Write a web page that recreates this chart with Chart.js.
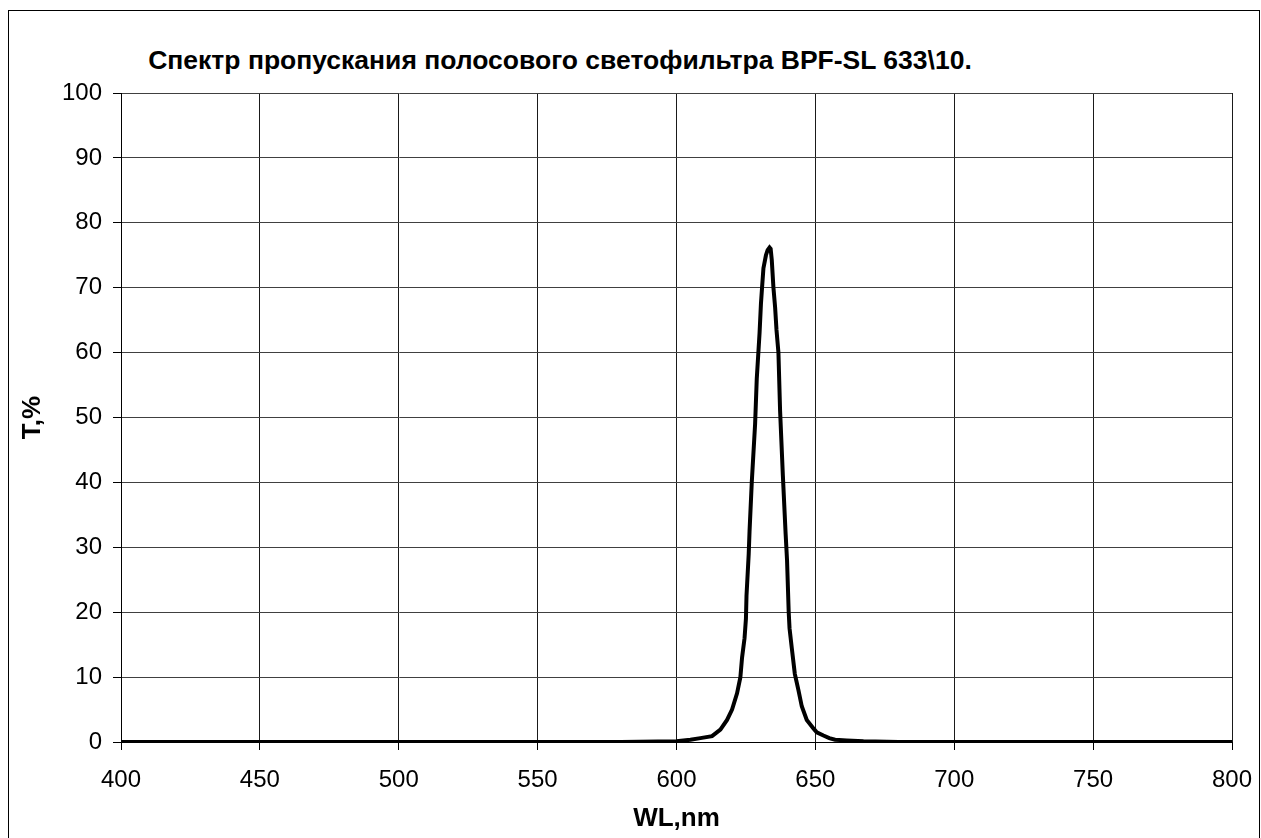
<!DOCTYPE html>
<html>
<head>
<meta charset="utf-8">
<script src="https://cdn.jsdelivr.net/npm/chart.js@4"></script>
<style>
  body { margin: 0; background: #fff; overflow: hidden; }
  #frame { position: absolute; left: 8px; top: 10px; width: 1250px; height: 900px; border: 1px solid #000; }
  #title { position: absolute; left: 0; top: 45px; width: 1120px; text-align: center;
           font: bold 26.5px "Liberation Sans", Arial, sans-serif; line-height: 30px; color: #000; }
  #c { position: absolute; left: 0; top: 0; }
</style>
</head>
<body>
<div id="frame"></div>
<div id="title">Спектр пропускания полосового светофильтра BPF-SL 633\10.</div>
<canvas id="c" width="1261" height="838"></canvas>
<script>
// wavelength, nm
const wl = [400, 500, 580, 600, 605, 608.6, 612.8, 615.8, 618.2, 620, 621.8, 623, 623.6, 624.5, 625, 625.2,
  626, 626.3, 627.1, 628.3, 628.9, 629.9, 630.4, 630.8, 631.3, 632.2, 632.8, 633.5, 633.9, 634.3, 634.9,
  635.5, 636, 636.7, 637.3, 638.3, 639.3, 639.8, 640.4, 640.7, 641.5, 642.6, 643.9, 645.1, 646.9, 649.3,
  650.5, 652.9, 655, 657.1, 661.3, 667.3, 680, 800]
// transmission, %
const tr = [0, 0, 0, 0.1, 0.35, 0.6, 0.9, 1.9, 3.4, 5, 7.5, 10, 13, 16, 19, 22.5,
  29, 32.5, 40, 49, 56, 63, 67.5, 70, 73, 75, 75.8, 76.2, 76, 74.3, 70,
  67, 63.5, 60, 51, 41, 32, 28, 20, 17.5, 14.5, 10.5, 8, 5.5, 3.4, 2.1,
  1.5, 1.0, 0.6, 0.35, 0.25, 0.1, 0, 0]
const xTicks = [400, 450, 500, 550, 600, 650, 700, 750, 800]
const yTicks = [0, 10, 20, 30, 40, 50, 60, 70, 80, 90, 100]

const points = wl.map((w, i) => ({x: w, y: tr[i]}))
const fam = '"Liberation Sans", Arial, sans-serif'

new Chart(document.getElementById('c'), {
  type: 'line',
  data: {
    datasets: [{
      data: points,
      borderColor: '#000',
      borderWidth: 4,
      pointRadius: 0,
      tension: 0,
      fill: false
    }]
  },
  options: {
    responsive: false,
    animation: false,
    devicePixelRatio: 1,
    layout: { padding: { left: 0, top: 93, right: 29, bottom: 0 } },
    plugins: { legend: { display: false }, tooltip: { enabled: false } },
    scales: {
      x: {
        type: 'linear',
        min: 400, max: 800,
        afterBuildTicks: (s) => { s.ticks = xTicks.map(v => ({value: v})) },
        afterFit: (s) => { s.height = 96; s.paddingLeft = 0; s.paddingRight = 0 },
        grid: { color: '#1a1a1a', tickColor: '#000', tickLength: 8, lineWidth: 1 },
        border: { color: '#000', width: 1 },
        ticks: { color: '#000', padding: 16, maxRotation: 0, font: { family: fam, size: 24 } },
        title: { display: true, text: 'WL,nm', color: '#000', padding: { top: 0, bottom: 4 },
                 font: { family: fam, size: 26, weight: 'bold' } }
      },
      y: {
        min: 0, max: 100,
        afterBuildTicks: (s) => { s.ticks = yTicks.map(v => ({value: v})) },
        afterFit: (s) => { s.width = 121; s.paddingTop = 0; s.paddingBottom = 0 },
        grid: { color: '#404040', tickColor: '#000', tickLength: 8, lineWidth: 1 },
        border: { color: '#000', width: 1 },
        ticks: { color: '#000', padding: 11, font: { family: fam, size: 24 } },
        title: { display: true, text: 'T,%', color: '#000', padding: { top: 17, bottom: 0 },
                 font: { family: fam, size: 26, weight: 'bold' } }
      }
    }
  }
})
</script>
</body>
</html>
